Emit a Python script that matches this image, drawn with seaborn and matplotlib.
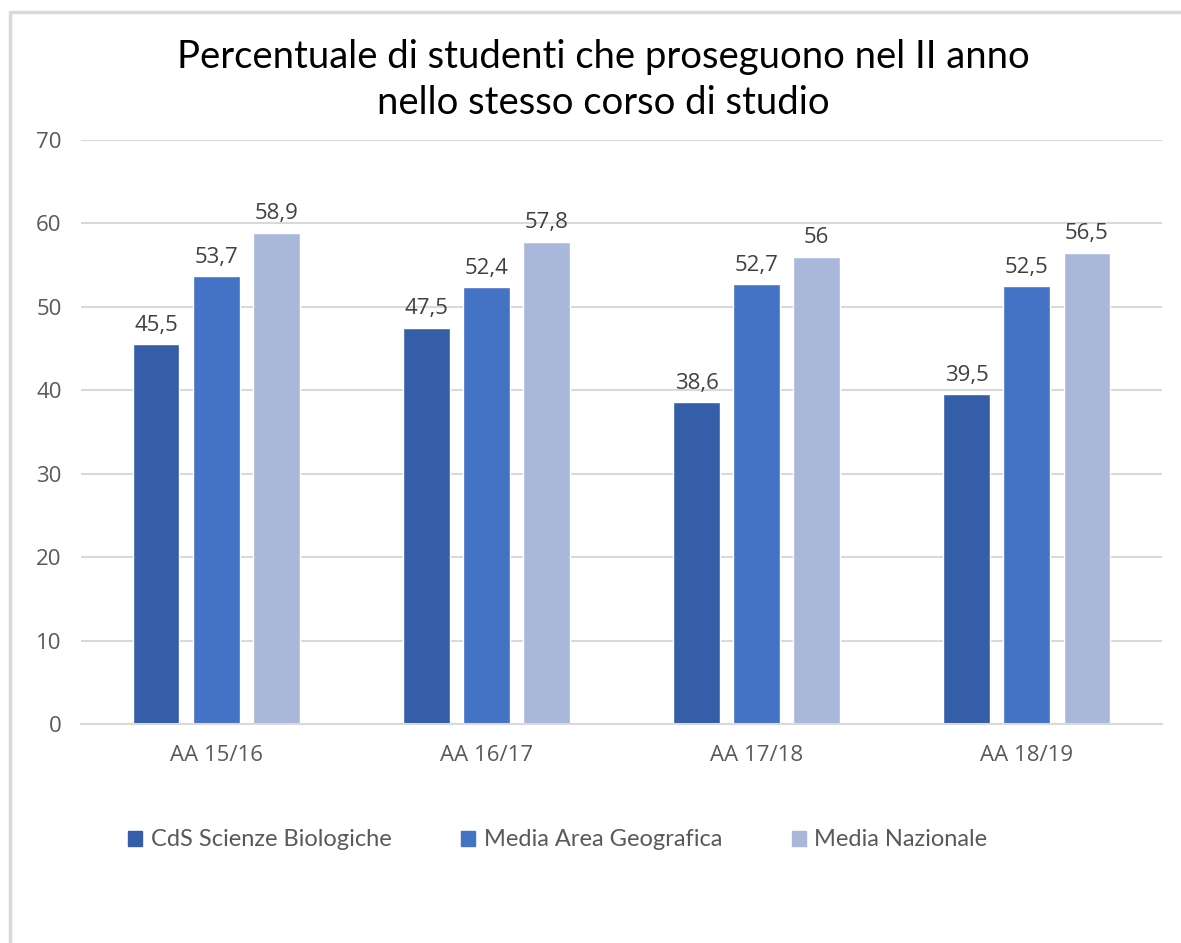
import pandas as pd
import matplotlib.pyplot as plt
import seaborn as sns
from matplotlib.lines import Line2D

# data
anni = ["AA 15/16", "AA 16/17", "AA 17/18", "AA 18/19"]
serie = ["CdS Scienze Biologiche", "Media Area Geografica", "Media Nazionale"]
cds = [45.5, 47.5, 38.6, 39.5]
area = [53.7, 52.4, 52.7, 52.5]
nazionale = [58.9, 57.8, 56.0, 56.5]
colori = ["#355EA8", "#4472C4", "#A9B7DB"]

df = pd.DataFrame({
    "anno": anni * 3,
    "serie": [serie[0]] * 4 + [serie[1]] * 4 + [serie[2]] * 4,
    "valore": cds + area + nazionale,
})

sns.set_style("white")
plt.rcParams["font.family"] = ["Open Sans", "DejaVu Sans"]

fig = plt.figure(figsize=(11.81, 9.43), dpi=100)
ax = fig.add_axes([81 / 1181, 1 - 724 / 943, (1162 - 81) / 1181, (724 - 140) / 943])

sns.barplot(data=df, x="anno", y="valore", hue="serie", palette=colori,
            saturation=1, width=0.667, gap=0.22, ax=ax, legend=False)

ax.set_ylim(0, 70)
ax.set_yticks(range(0, 71, 10))
ax.yaxis.grid(True, color="#D9D9D9", linewidth=1.5)
ax.set_axisbelow(True)
for s in ["top", "right", "left"]:
    ax.spines[s].set_visible(False)
ax.spines["bottom"].set_color("#D9D9D9")
ax.spines["bottom"].set_linewidth(1.5)
ax.tick_params(length=0, labelsize=16, labelcolor="#595959")
ax.tick_params(axis="y", pad=14)
ax.tick_params(axis="x", pad=15)
ax.set_xlabel("")
ax.set_ylabel("")

# value labels with comma decimals
for cont in ax.containers:
    etichette = [("%g" % b.get_height()).replace(".", ",") for b in cont]
    ax.bar_label(cont, labels=etichette, padding=6, fontsize=16, color="#404040")

fig.text(603 / 1181, 1 - 80 / 943,
         "Percentuale di studenti che proseguono nel II anno\nnello stesso corso di studio",
         ha="center", va="center", fontsize=27.5, color="#000000",
         family=["Lato", "DejaVu Sans"], linespacing=1.33)

maniglie = [plt.Rectangle((0, 0), 1, 1, color=c) for c in colori]
fig.legend(maniglie, serie, loc="center left", bbox_to_anchor=(107 / 1181, 1 - 840 / 943),
           ncol=3, frameon=False, labelcolor="#595959",
           prop={"family": ["Lato", "DejaVu Sans"], "size": 17},
           handlelength=0.6, handleheight=0.6, handletextpad=0.35, columnspacing=2.95)

# chart border (top and left edge)
fig.add_artist(Line2D([10 / 1181, 1], [1 - 12 / 943] * 2, color="#D9D9D9", linewidth=2.5))
fig.add_artist(Line2D([10 / 1181] * 2, [0, 1 - 12 / 943], color="#D9D9D9", linewidth=2.5))

fig.savefig("out.png", dpi=100)
